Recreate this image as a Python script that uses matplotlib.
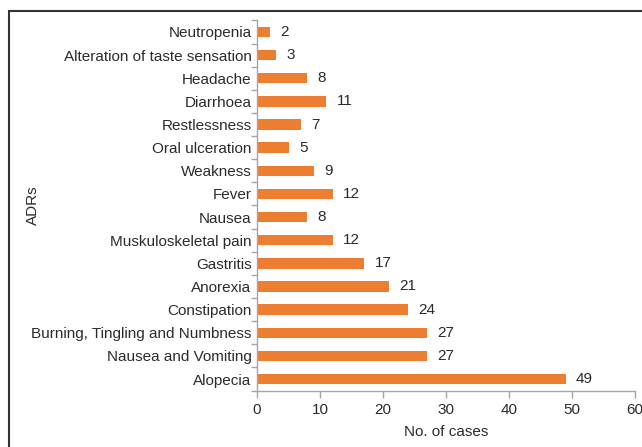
import matplotlib
matplotlib.use("Agg")
import matplotlib.pyplot as plt
from matplotlib.patches import Rectangle
import numpy as np

categories = ["Alopecia", "Nausea and Vomiting", "Burning, Tingling and Numbness",
              "Constipation", "Anorexia", "Gastritis", "Muskuloskeletal pain",
              "Nausea", "Fever", "Weakness", "Oral ulceration", "Restlessness",
              "Diarrhoea", "Headache", "Alteration of taste sensation", "Neutropenia"]
values = [49, 27, 27, 24, 21, 17, 12, 8, 12, 9, 5, 7, 11, 8, 3, 2]
xticks = [0, 10, 20, 30, 40, 50, 60]

plt.rcParams['font.family'] = ['Liberation Sans', 'DejaVu Sans']
text_color = '#2b2b2b'
spine_color = '#a6a6a6'
fs = 11

fig = plt.figure(figsize=(6.42, 4.47), dpi=100)
ax = fig.add_axes([257/642, 1 - 390.6/447, (635-257)/642, (390.6-20.4)/447])

y = np.arange(len(categories))
ax.barh(y, values, height=0.45, color='#ED7D31')
for yi, v in zip(y, values):
    ax.annotate(str(v), (v, yi), xytext=(7.5, 0), textcoords='offset points',
                va='center', ha='left', fontsize=fs, color=text_color)

ax.set_ylim(-0.5, len(categories) - 0.5)
ax.set_xlim(0, 60)
ax.set_xticks(xticks)
ax.set_yticks(y)
ax.set_yticklabels(categories)
ax.set_yticks(np.arange(-0.5, len(categories), 1), minor=True)
ax.tick_params(axis='y', which='major', length=0, labelsize=fs, labelcolor=text_color, pad=4)
ax.tick_params(axis='y', which='minor', length=4, color=spine_color, width=1)
ax.tick_params(axis='x', which='major', length=5, color=spine_color, width=1,
               labelsize=fs, labelcolor=text_color, pad=4)
for s in ['top', 'right']:
    ax.spines[s].set_visible(False)
for s in ['left', 'bottom']:
    ax.spines[s].set_color(spine_color)
    ax.spines[s].set_linewidth(1)

ax.set_xlabel("No. of cases", fontsize=fs, color=text_color, labelpad=6)
ax.set_ylabel("ADRs", fontsize=fs, color=text_color)
ax.yaxis.set_label_coords(-0.575, 0.5)

fig.patches.append(Rectangle((9/642, -0.2), 1.2, 1 - 11/447 + 0.2,
                             transform=fig.transFigure, fill=False,
                             edgecolor='#333333', linewidth=1.5))

fig.savefig("out.png", dpi=100)
